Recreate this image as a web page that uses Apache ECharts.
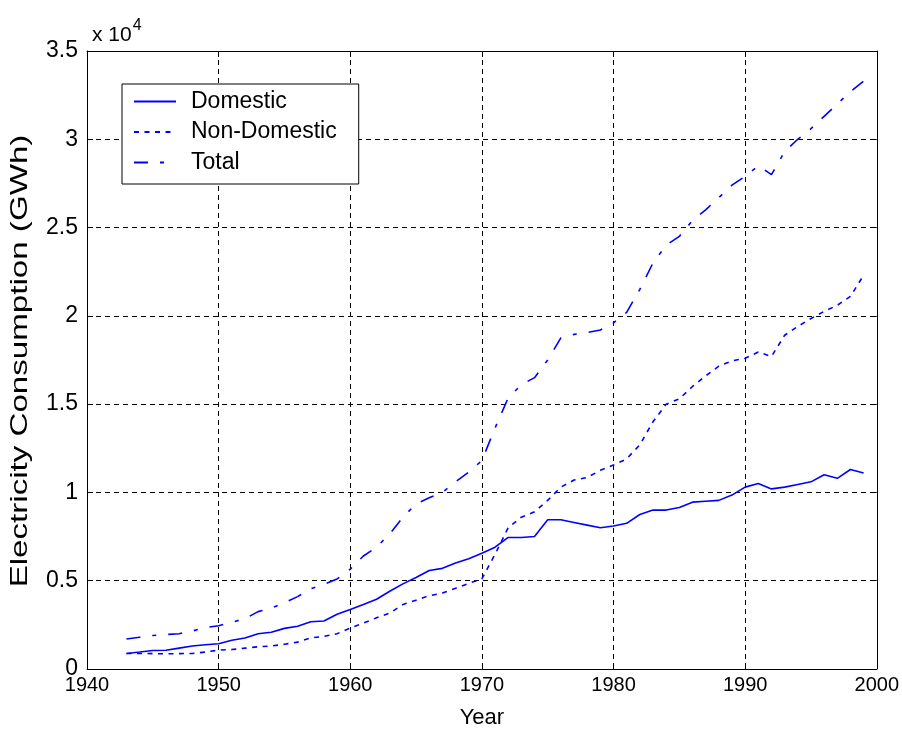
<!DOCTYPE html>
<html>
<head>
<meta charset="utf-8">
<script src="https://cdn.jsdelivr.net/npm/echarts@6/dist/echarts.min.js"></script>
<style>
  html, body { margin: 0; padding: 0; background: #fff; }
  #chart { width: 902px; height: 734px; }
</style>
</head>
<body>
<div id="chart"></div>
<script>
// Years (x axis)
var years = [
  1943,1944,1945,1946,1947,1948,1949,1950,1951,1952,
  1953,1954,1955,1956,1957,1958,1959,1960,1961,1962,
  1963,1964,1965,1966,1967,1968,1969,1970,1971,1972,
  1973,1974,1975,1976,1977,1978,1979,1980,1981,1982,
  1983,1984,1985,1986,1987,1988,1989,1990,1991,1992,
  1993,1994,1995,1996,1997,1998,1999
];
// Electricity consumption in GWh
var domestic = [
  880,960,1050,1060,1180,1300,1370,1430,1630,1760,
  2000,2080,2300,2420,2680,2720,3100,3370,3650,3950,
  4400,4820,5180,5580,5700,6000,6250,6550,6900,7450,
  7450,7500,8450,8450,8300,8150,8000,8100,8250,8750,
  9000,9000,9150,9450,9500,9550,9850,10300,10500,10200,
  10300,10450,10600,11000,10800,11300,11100
];
var nonDomestic = [
  880,880,870,860,870,880,960,1070,1100,1180,
  1260,1300,1400,1520,1760,1850,2000,2320,2600,2900,
  3170,3650,3900,4150,4300,4570,4850,5100,6500,8000,
  8600,8900,9550,10300,10700,10850,11250,11550,11900,12700,
  14000,15000,15300,16000,16600,17150,17450,17600,17950,17700,
  18900,19400,19850,20250,20600,21100,22300
];
var total = [
  1700,1800,1900,1950,2000,2150,2350,2450,2650,2850,
  3250,3450,3750,4100,4550,4800,5100,5650,6400,6900,
  7650,8600,9350,9700,10000,10600,11150,11800,13650,15350,
  16100,16500,17500,18750,18950,19050,19200,19600,20200,21500,
  23000,24000,24500,25400,26000,26700,27400,27900,28500,28000,
  29300,30000,30600,31300,32000,32700,33300
];
var seriesNames = ['Domestic', 'Non-Domestic', 'Total'];
var yTicks = [0, 5000, 10000, 15000, 20000, 25000, 30000, 35000];
var xTicks = [1940, 1950, 1960, 1970, 1980, 1990, 2000];

function pairs(vals) {
  return years.map(function (y, i) { return [y, vals[i]]; });
}

var FONT = '"Liberation Sans", Arial, sans-serif';
var BLUE = '#0000ff';
var gridDash = { color: '#000', width: 1, type: [5, 4] };

var chart = echarts.init(document.getElementById('chart'), null, { renderer: 'canvas' });

var option = {
  backgroundColor: '#fff',
  animation: false,
  textStyle: { fontFamily: FONT, color: '#000' },
  title: {
    left: 87, top: 13,
    text: '{a|x 10}{b|4}',
    textStyle: {
      fontWeight: 'normal',
      rich: {
        a: { fontFamily: FONT, fontSize: 21, fontWeight: 'normal', color: '#000', verticalAlign: 'bottom', lineHeight: 28 },
        b: { fontFamily: FONT, fontSize: 16, fontWeight: 'normal', color: '#000', verticalAlign: 'top', lineHeight: 28, padding: [0, 0, 12, 1] }
      }
    }
  },
  graphic: [{
    type: 'text',
    x: 20, y: 361,
    rotation: Math.PI / 2,
    scaleX: 1.38,
    style: {
      text: 'Electricity Consumption (GWh)',
      fontFamily: FONT, fontSize: 24, fill: '#000',
      align: 'center', verticalAlign: 'middle'
    }
  }],
  legend: {
    orient: 'vertical',
    left: 122, top: 84,
    data: seriesNames,
    backgroundColor: '#fff',
    borderColor: '#000',
    borderWidth: 1,
    borderRadius: 0,
    padding: [6, 22, 10, 11],
    itemWidth: 42,
    itemHeight: 22,
    itemGap: 7.5,
    itemStyle: { opacity: 0 },
    textStyle: { fontFamily: FONT, fontSize: 23, color: '#000', lineHeight: 22, padding: [0, 0, 0, 10] },
    z: 10
  },
  grid: { left: 87, right: 25, top: 51, bottom: 61, containLabel: false },
  xAxis: [{
    type: 'value', min: 1940, max: 2000, interval: 10,
    position: 'bottom',
    axisLine: { show: true, onZero: false, lineStyle: { color: '#000', width: 1 } },
    axisTick: { show: true, inside: true, length: 6, lineStyle: { color: '#000' } },
    axisLabel: { fontFamily: FONT, fontSize: 20, color: '#000', margin: 6,
      formatter: function (v) { return String(v); } },
    splitLine: { show: true, lineStyle: gridDash },
    name: 'Year', nameLocation: 'middle', nameGap: 38,
    nameTextStyle: { fontFamily: FONT, fontSize: 22, color: '#000' }
  }, {
    type: 'value', min: 1940, max: 2000, interval: 10,
    position: 'top',
    axisLine: { show: true, onZero: false, lineStyle: { color: '#000', width: 1 } },
    axisTick: { show: true, inside: true, length: 6, lineStyle: { color: '#000' } },
    axisLabel: { show: false },
    splitLine: { show: false }
  }],
  yAxis: [{
    type: 'value', min: 0, max: 35000, interval: 5000,
    position: 'left',
    axisLine: { show: true, onZero: false, lineStyle: { color: '#000', width: 1 } },
    axisTick: { show: true, inside: true, length: 6, lineStyle: { color: '#000' } },
    axisLabel: {
      fontFamily: FONT, fontSize: 23, color: '#000', margin: 9,
      formatter: function (v) { return String(v / 10000); }
    },
    splitLine: { show: true, lineStyle: gridDash }
  }, {
    type: 'value', min: 0, max: 35000, interval: 5000,
    position: 'right',
    axisLine: { show: true, onZero: false, lineStyle: { color: '#000', width: 1 } },
    axisTick: { show: true, inside: true, length: 6, lineStyle: { color: '#000' } },
    axisLabel: { show: false },
    splitLine: { show: false }
  }],
  series: [{
    name: seriesNames[0], type: 'line', data: pairs(domestic),
    symbol: 'none', showSymbol: false,
    lineStyle: { color: BLUE, width: 1.6, type: 'solid' },
    itemStyle: { color: BLUE }
  }, {
    name: seriesNames[1], type: 'line', data: pairs(nonDomestic),
    symbol: 'none', showSymbol: false,
    lineStyle: { color: BLUE, width: 1.6, type: [5, 5.5] },
    itemStyle: { color: BLUE }
  }, {
    name: seriesNames[2], type: 'line', data: pairs(total),
    symbol: 'none', showSymbol: false,
    lineStyle: { color: BLUE, width: 1.6, type: [14, 12, 4, 12] },
    itemStyle: { color: BLUE }
  }]
};
chart.setOption(option);
</script>
</body>
</html>
